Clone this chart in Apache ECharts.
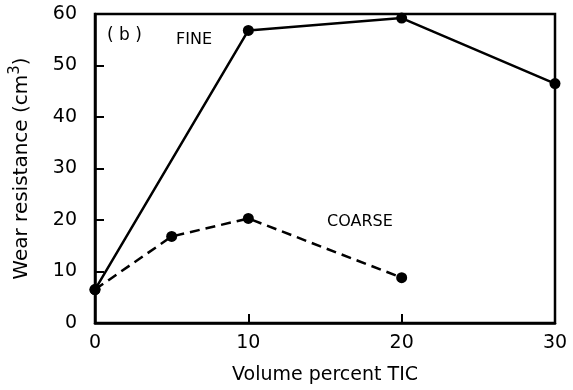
<!DOCTYPE html>
<html><head><meta charset="utf-8">
<script src="https://cdn.jsdelivr.net/npm/echarts@6/dist/echarts.min.js"></script>
<style>html,body{margin:0;padding:0;background:#fff}#c{width:573px;height:390px}</style>
</head><body><div id="c"></div>
<script>
var fineX = [0, 10, 20, 30];
var fineY = [6.5, 56.8, 59.2, 46.5];
var coarseX = [0, 5, 10, 20];
var coarseY = [6.5, 16.8, 20.3, 8.8];
var xTicks = [0, 10, 20, 30];
var yTicks = [0, 10, 20, 30, 40, 50, 60];
var FONT = '"DejaVu Sans", sans-serif';
var chart = echarts.init(document.getElementById('c'));
function pairs(xs, ys){ return xs.map(function(x,i){return [x, ys[i]];}); }
chart.setOption({
  animation: false,
  grid: {left: 95, right: 18, top: 14, bottom: 67, show: true, borderColor: '#000', borderWidth: 2.5, backgroundColor: 'transparent'},
  xAxis: {
    type: 'value', min: 0, max: 30, interval: 10,
    name: 'Volume percent TIC', nameLocation: 'middle', nameGap: 43,
    nameTextStyle: {color: '#000', fontSize: 19, fontFamily: FONT},
    axisLine: {show: true, lineStyle: {color: '#000', width: 2.5}},
    axisTick: {show: true, inside: true, length: 9, lineStyle: {color: '#000', width: 2}},
    axisLabel: {color: '#000', fontSize: 19, fontFamily: FONT, margin: 11},
    splitLine: {show: false}
  },
  yAxis: {
    type: 'value', min: 0, max: 60, interval: 10,
    name: 'Wear resistance (cm{sup|3})', nameLocation: 'middle', nameGap: 60,
    nameTextStyle: {color: '#000', fontSize: 20, fontFamily: FONT,
      rich: {sup: {fontSize: 15, verticalAlign: 'top', padding: [0,0,12,0], fontFamily: FONT, color: '#000'}}},
    axisLine: {show: true, lineStyle: {color: '#000', width: 2.5}},
    axisTick: {show: true, inside: true, length: 9, lineStyle: {color: '#000', width: 2}},
    axisLabel: {color: '#000', fontSize: 19, fontFamily: FONT, margin: 18},
    splitLine: {show: false}
  },
  series: [
    {type: 'line', data: pairs(fineX, fineY), symbol: 'circle', symbolSize: 11,
     lineStyle: {color: '#000', width: 2.5}, itemStyle: {color: '#000'}, z: 3},
    {type: 'line', data: pairs(coarseX, coarseY), symbol: 'circle', symbolSize: 11,
     lineStyle: {color: '#000', width: 2.5, type: [10, 6]}, itemStyle: {color: '#000'}, z: 3}
  ],
  graphic: [
    {type: 'text', left: 107, top: 27, style: {text: '( b )', fontSize: 17, fontFamily: FONT, fill: '#000'}},
    {type: 'text', left: 176, top: 32, style: {text: 'FINE', fontSize: 16, fontFamily: FONT, fill: '#000'}},
    {type: 'text', left: 327, top: 214, style: {text: 'COARSE', fontSize: 16, fontFamily: FONT, fill: '#000'}}
  ]
});
</script></body></html>
